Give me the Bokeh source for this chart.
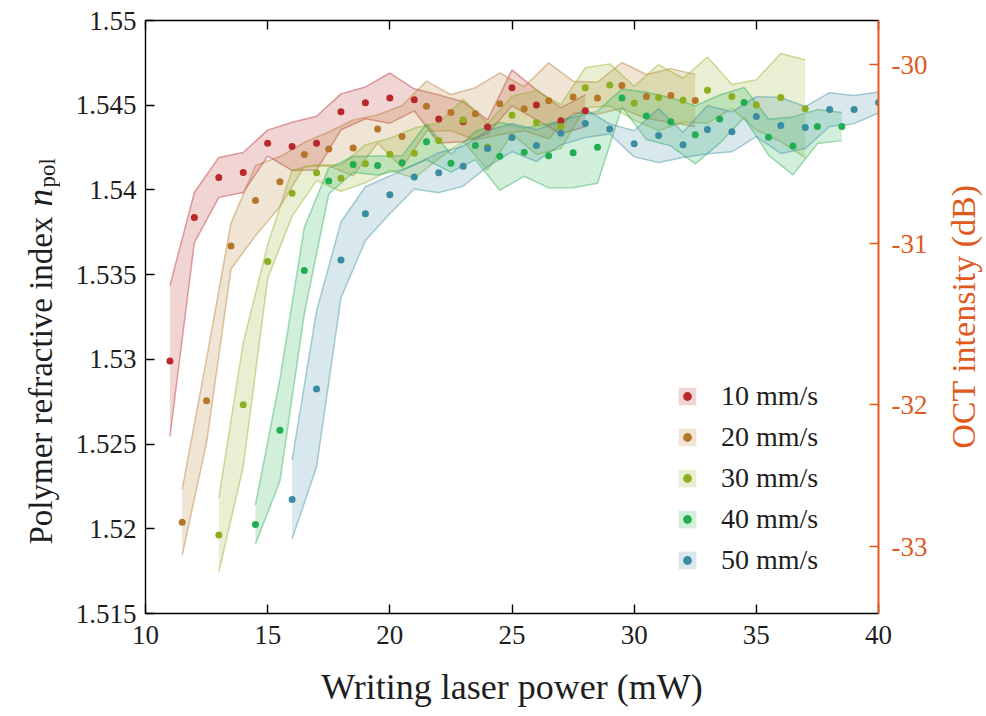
import numpy as np
from bokeh.plotting import figure
from bokeh.layouts import row
from bokeh.models import (LinearAxis, FixedTicker, Range1d, Legend, LegendItem, Label)
from bokeh.embed import file_html
from bokeh.resources import INLINE

# ---------------- data ----------------
speed_labels = ["10 mm/s", "20 mm/s", "30 mm/s", "40 mm/s", "50 mm/s"]

# 10 mm/s
p10_x = [11, 12, 13, 14, 15, 16, 17, 18, 19, 20, 21, 22, 23, 24, 25, 26, 27, 28]
p10_n = [1.52990, 1.53837, 1.54074, 1.54103, 1.54276, 1.54257, 1.54276, 1.54461, 1.54514,
         1.54542, 1.54532, 1.54419, 1.54402, 1.54372, 1.54603, 1.54502, 1.54408, 1.54467]
p10_err = [0.00446, 0.00148, 0.00118, 0.00118, 0.00077, 0.00142, 0.00159, 0.00106, 0.00094,
           0.00148, 0.00065, 0.00142, 0.00118, 0.00041, 0.00106, 0.00089, 0.00077, 0.00094]

# 20 mm/s
p20_x = [11.5, 12.5, 13.5, 14.5, 15.5, 16.5, 17.5, 18.5, 19.5, 20.5, 21.5, 22.5, 23.5, 24.5,
         25.5, 26.5, 27.5, 28.5, 29.5, 30.5, 31.5, 32.5]
p20_n = [1.52038, 1.52756, 1.53669, 1.53937, 1.54049, 1.54209, 1.54242, 1.54248, 1.54360,
         1.54315, 1.54494, 1.54457, 1.54449, 1.54508, 1.54479, 1.54526, 1.54548, 1.54542,
         1.54616, 1.54551, 1.54557, 1.54528]
p20_err = [0.00195, 0.00248, 0.00136, 0.00207, 0.00148, 0.00071, 0.00100, 0.00165, 0.00083,
           0.00183, 0.00148, 0.00106, 0.00154, 0.00183, 0.00130, 0.00224, 0.00094, 0.00094,
           0.00136, 0.00130, 0.00159, 0.00154]

# 30 mm/s
p30_x = [13, 14, 15, 16, 17, 18, 19, 20, 21, 22, 23, 24, 25, 26, 27, 28, 29, 30, 31, 32,
         33, 34, 35, 36, 37]
p30_n = [1.51963, 1.52732, 1.53577, 1.53981, 1.54102, 1.54069, 1.54154, 1.54211, 1.54217,
         1.54291, 1.54412, 1.54254, 1.54441, 1.54398, 1.54374, 1.54603, 1.54620, 1.54512,
         1.54545, 1.54529, 1.54589, 1.54551, 1.54502, 1.54545, 1.54479]
p30_err = [0.00219, 0.00366, 0.00100, 0.00136, 0.00047, 0.00077, 0.00112, 0.00094, 0.00148,
           0.00106, 0.00124, 0.00136, 0.00112, 0.00189, 0.00130, 0.00118, 0.00124, 0.00100,
           0.00195, 0.00130, 0.00195, 0.00071, 0.00148, 0.00260, 0.00289]

# 40 mm/s
p40_x = [14.5, 15.5, 16.5, 17.5, 18.5, 19.5, 20.5, 21.5, 22.5, 23.5, 24.5, 25.5, 26.5, 27.5,
         28.5, 29.5, 30.5, 31.5, 32.5, 33.5, 34.5, 35.5, 36.5, 37.5, 38.5]
p40_n = [1.52026, 1.52581, 1.53524, 1.54053, 1.54150, 1.54144, 1.54160, 1.54284, 1.54158,
         1.54262, 1.54199, 1.54223, 1.54201, 1.54220, 1.54252, 1.54542, 1.54437, 1.54402,
         1.54325, 1.54418, 1.54516, 1.54311, 1.54260, 1.54374, 1.54374]
p40_err = [0.00115, 0.00301, 0.00254, 0.00077, 0.00047, 0.00056, 0.00041, 0.00106, 0.00053,
           0.00083, 0.00201, 0.00142, 0.00189, 0.00207, 0.00213, 0.00053, 0.00139, 0.00142,
           0.00171, 0.00142, 0.00089, 0.00106, 0.00171, 0.00100, 0.00083]

# 50 mm/s
p50_x = [16, 17, 18, 19, 20, 21, 22, 23, 24, 25, 26, 27, 28, 29, 30, 31, 32, 33, 34, 35,
         36, 37, 38, 39, 40]
p50_n = [1.52173, 1.52825, 1.53587, 1.53860, 1.53971, 1.54077, 1.54102, 1.54140, 1.54244,
         1.54309, 1.54262, 1.54335, 1.54392, 1.54360, 1.54272, 1.54321, 1.54266, 1.54356,
         1.54343, 1.54433, 1.54380, 1.54368, 1.54474, 1.54474, 1.54516]
p50_err = [0.00233, 0.00461, 0.00224, 0.00159, 0.00112, 0.00071, 0.00118, 0.00118, 0.00106,
           0.00083, 0.00094, 0.00069, 0.00083, 0.00030, 0.00077, 0.00159, 0.00074, 0.00142,
           0.00118, 0.00118, 0.00165, 0.00124, 0.00100, 0.00083, 0.00062]

x_ticks = [10, 15, 20, 25, 30, 35, 40]
n_ticks = [1.515, 1.52, 1.525, 1.53, 1.535, 1.54, 1.545, 1.55]
n_tick_labels = ["1.515", "1.52", "1.525", "1.53", "1.535", "1.54", "1.545", "1.55"]

# right axis: OCT intensity ticks and where they sit on the refractive-index scale
oct_tick_labels = ["-30", "-31", "-32", "-33"]
oct_tick_n = [1.54738, 1.53681, 1.52733, 1.51894]

series = [
    (p10_x, p10_n, p10_err),
    (p20_x, p20_n, p20_err),
    (p30_x, p30_n, p30_err),
    (p40_x, p40_n, p40_err),
    (p50_x, p50_n, p50_err),
]
colors = ["#b8282a", "#b5762a", "#8cae1f", "#20ae50", "#3a8ca2"]
oct_color = "#e05a1e"
FONT = "Liberation Serif"
TXT = "#1e1e1e"

LEFT_W = 60
RIGHT_W = 45
H = 716
TOP = 20
BOTTOM = 103

# ---------------- main figure ----------------
p = figure(width=986 - LEFT_W - RIGHT_W, height=H, output_backend="svg",
           toolbar_location=None,
           x_range=Range1d(10, 40), y_range=Range1d(1.515, 1.55),
           x_axis_location=None, y_axis_location=None,
           min_border_left=145 - LEFT_W, min_border_right=(986 - RIGHT_W) - 878,
           min_border_top=TOP, min_border_bottom=BOTTOM)
p.grid.visible = False
p.outline_line_color = None
p.background_fill_color = "white"
p.border_fill_color = "white"

bands = []
dots = []
for (xs, ns, es), c in zip(series, colors):
    xs = np.array(xs, dtype=float)
    ns = np.array(ns)
    es = np.array(es)
    lo = ns - es
    hi = ns + es
    va = p.varea(x=xs, y1=lo, y2=hi, fill_color=c, fill_alpha=0.2)
    p.line(xs, hi, line_color=c, line_alpha=0.42, line_width=1.5)
    p.line(xs, lo, line_color=c, line_alpha=0.42, line_width=1.5)
    bands.append((va, xs, ns))

for (va, xs, ns), c in zip(bands, colors):
    d = p.scatter(xs, ns, size=7, fill_color=c, line_color=None)
    dots.append(d)


def style(ax, color="black"):
    ax.axis_line_color = color
    ax.axis_line_width = 1.4
    ax.major_tick_line_color = color
    ax.major_tick_line_width = 1.4
    ax.major_tick_in = 9
    ax.major_tick_out = 0
    ax.minor_tick_line_color = None
    ax.major_label_text_font = FONT
    ax.major_label_text_font_size = "27px"
    ax.major_label_text_color = TXT if color == "black" else color


xb = LinearAxis(ticker=FixedTicker(ticks=x_ticks))
style(xb)
xb.major_label_standoff = 12
xb.axis_label = "Writing laser power (mW)"
xb.axis_label_text_font = FONT
xb.axis_label_text_font_style = "normal"
xb.axis_label_text_font_size = "36px"
xb.axis_label_text_color = TXT
xb.axis_label_standoff = 20
p.add_layout(xb, "below")

xt = LinearAxis(ticker=FixedTicker(ticks=x_ticks))
style(xt)
xt.major_label_text_font_size = "1px"
xt.major_label_text_color = None
xt.major_label_standoff = 0
p.add_layout(xt, "above")

yl = LinearAxis(ticker=FixedTicker(ticks=n_ticks))
style(yl)
yl.major_label_standoff = 9
yl.major_label_overrides = {t: s for t, s in zip(n_ticks, n_tick_labels)}
p.add_layout(yl, "left")

yr = LinearAxis(ticker=FixedTicker(ticks=oct_tick_n))
style(yr, oct_color)
yr.axis_line_width = 2
yr.major_label_standoff = 13
yr.major_label_overrides = {t: s for t, s in zip(oct_tick_n, oct_tick_labels)}
p.add_layout(yr, "right")

# ---------------- legend ----------------
items = [LegendItem(label=lab, renderers=[b[0], d])
         for lab, b, d in zip(speed_labels, bands, dots)]
legend = Legend(items=items, location=(531, 37), orientation="vertical",
                glyph_width=22, glyph_height=22, label_height=22,
                spacing=9, padding=0, margin=0, label_standoff=23,
                label_text_font=FONT, label_text_font_size="28px",
                label_text_color=TXT, border_line_color=None,
                background_fill_alpha=0)
p.add_layout(legend, "center")


# ---------------- side strips holding the axis titles ----------------
# y in these strips = pixels measured up from the bottom edge of the page
def strip(width):
    f = figure(width=width, height=H, output_backend="svg", toolbar_location=None,
               x_range=Range1d(0, width), y_range=Range1d(BOTTOM, H - TOP),
               x_axis_location=None, y_axis_location=None,
               min_border_left=0, min_border_right=0,
               min_border_top=TOP, min_border_bottom=BOTTOM)
    f.grid.visible = False
    f.outline_line_color = None
    f.background_fill_color = "white"
    f.border_fill_color = "white"
    return f


left = strip(LEFT_W)
left.add_layout(Label(x=40, y=H - 380, text="Polymer refractive index", angle=np.pi / 2,
                      text_align="center", text_baseline="alphabetic",
                      text_font=FONT, text_font_size="33px", text_color=TXT))
left.add_layout(Label(x=40, y=H - 206, text="n", angle=np.pi / 2, text_align="left",
                      text_baseline="alphabetic", text_font=FONT,
                      text_font_style="italic", text_font_size="35px", text_color=TXT))
left.add_layout(Label(x=47, y=H - 187, text="pol", angle=np.pi / 2, text_align="left",
                      text_baseline="alphabetic", text_font=FONT,
                      text_font_size="23px", text_color=TXT))

right = strip(RIGHT_W)
right.add_layout(Label(x=22, y=H - 316, text="OCT intensity (dB)", angle=np.pi / 2,
                       text_align="center", text_baseline="middle",
                       text_font=FONT, text_font_size="34px", text_color=oct_color))

layout = row(left, p, right, spacing=0)
open("out.html", "w").write(file_html(layout, INLINE))
